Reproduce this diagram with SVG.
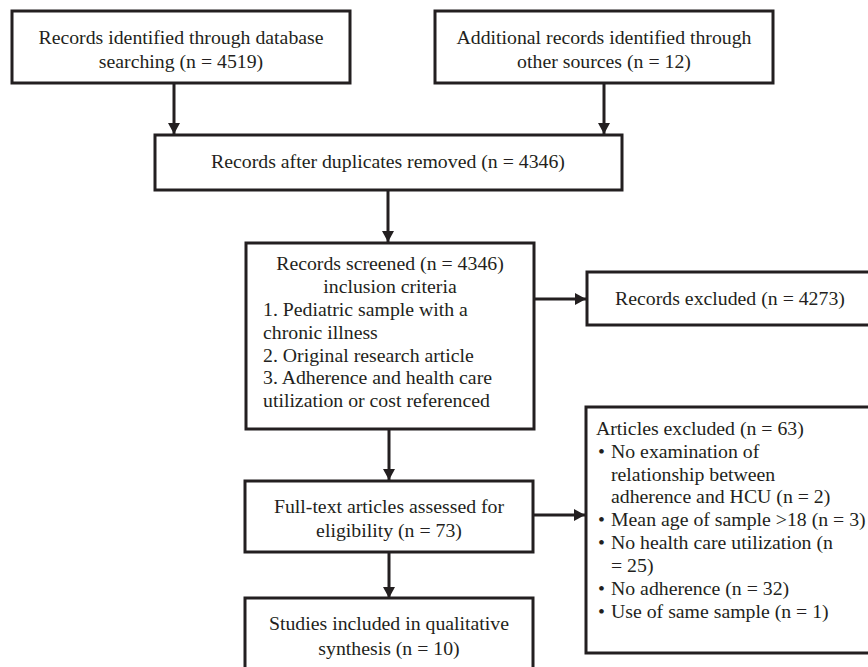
<svg xmlns="http://www.w3.org/2000/svg" width="868" height="667" viewBox="0 0 868 667">
<style>
.box{fill:#fff;stroke:#231f20;stroke-width:3}
.t{font-family:"Liberation Serif","Times New Roman",serif;font-size:19.8px;fill:#231f20}
.c{text-anchor:middle}
.edge{stroke:#231f20;stroke-width:3;fill:none}
</style>
<defs>
<marker id="ah" markerUnits="userSpaceOnUse" markerWidth="12" markerHeight="12" refX="11" refY="6" orient="auto">
<path d="M0,0 L11,6 L0,12 z" fill="#231f20"/>
</marker>
</defs>
<rect width="868" height="667" fill="#fff"/>
<g id="connectors">
<path class="edge" d="M174,83 V134" marker-end="url(#ah)"/>
<path class="edge" d="M604,83 V134" marker-end="url(#ah)"/>
<path class="edge" d="M388,190 V242" marker-end="url(#ah)"/>
<path class="edge" d="M389,429 V480" marker-end="url(#ah)"/>
<path class="edge" d="M389,552 V598" marker-end="url(#ah)"/>
<path class="edge" d="M534,299 H586" marker-end="url(#ah)"/>
<path class="edge" d="M533,515 H585" marker-end="url(#ah)"/>
</g>
<g id="n1">
<rect class="box" x="12" y="11" width="338" height="72"/>
<text class="t c" x="181" y="44">Records identified through database</text>
<text class="t c" x="181" y="68">searching (n = 4519)</text>
</g>
<g id="n2">
<rect class="box" x="435" y="11" width="338" height="72"/>
<text class="t c" x="604" y="44">Additional records identified through</text>
<text class="t c" x="604" y="68">other sources (n = 12)</text>
</g>
<g id="n3">
<rect class="box" x="155" y="135" width="467" height="55"/>
<text class="t c" x="388" y="168">Records after duplicates removed (n = 4346)</text>
</g>
<g id="n4">
<rect class="box" x="246" y="243" width="288" height="186"/>
<text class="t c" x="390" y="270">Records screened (n = 4346)</text>
<text class="t c" x="390" y="293">inclusion criteria</text>
<text class="t" x="263" y="316">1. Pediatric sample with a</text>
<text class="t" x="263" y="339">chronic illness</text>
<text class="t" x="263" y="362">2. Original research article</text>
<text class="t" x="263" y="384">3. Adherence and health care</text>
<text class="t" x="263" y="407">utilization or cost referenced</text>
</g>
<g id="n5">
<rect class="box" x="587" y="272" width="300" height="53"/>
<text class="t c" x="730" y="305">Records excluded (n = 4273)</text>
</g>
<g id="n6">
<rect class="box" x="245" y="481" width="288" height="71"/>
<text class="t c" x="389" y="513">Full-text articles assessed for</text>
<text class="t c" x="389" y="537">eligibility (n = 73)</text>
</g>
<g id="n7">
<rect class="box" x="586" y="407" width="300" height="246"/>
<text class="t" x="596" y="435">Articles excluded (n = 63)</text>
<text class="t" x="598" y="458">•</text><text class="t" x="611" y="458">No examination of</text>
<text class="t" x="611" y="481">relationship between</text>
<text class="t" x="611" y="503">adherence and HCU (n = 2)</text>
<text class="t" x="598" y="526">•</text><text class="t" x="611" y="526">Mean age of sample &gt;18 (n = 3)</text>
<text class="t" x="598" y="549">•</text><text class="t" x="611" y="549">No health care utilization (n</text>
<text class="t" x="611" y="572">= 25)</text>
<text class="t" x="598" y="595">•</text><text class="t" x="611" y="595">No adherence (n = 32)</text>
<text class="t" x="598" y="618">•</text><text class="t" x="611" y="618">Use of same sample (n = 1)</text>
</g>
<g id="n8">
<rect class="box" x="245" y="598" width="288" height="90"/>
<text class="t c" x="389" y="630">Studies included in qualitative</text>
<text class="t c" x="389" y="655">synthesis (n = 10)</text>
</g>
</svg>
